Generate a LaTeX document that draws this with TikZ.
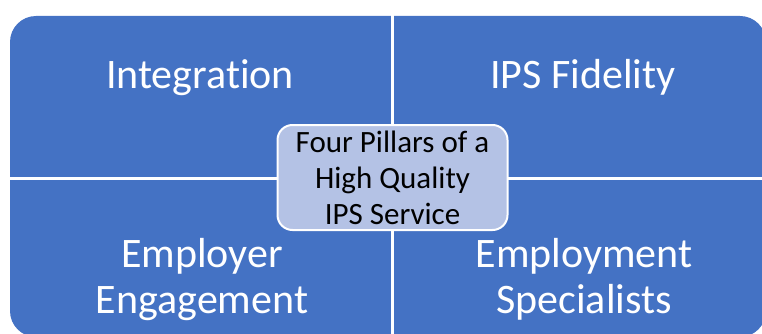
\documentclass[tikz,border=0pt]{standalone}
\usepackage{fontspec}
\setmainfont{Carlito}[Ligatures=NoCommon]
\definecolor{quadblue}{HTML}{4472C4}
\definecolor{hubfill}{HTML}{B4C2E5}
\begin{document}
\begin{tikzpicture}[x=1pt,y=-1pt,
  quadlabel/.style={text=white,font=\fontsize{42}{46}\selectfont,align=center,anchor=base,inner sep=0pt},
  hub/.style={draw=white,line width=2pt,fill=hubfill,rounded corners=15pt,
    minimum width=230pt,minimum height=105pt,inner sep=0pt,
    font=\fontsize{31}{36}\selectfont,align=center,text=black},
  divider/.style={white,line width=3pt}]
  \useasboundingbox (0,0) rectangle (762,334);
  \begin{scope}
    \clip (0,0) rectangle (762,334);
    % matrix background with rounded outer corners
    \fill[quadblue,rounded corners=26pt] (10,16) rectangle (766,337);
    % dividers between the four quadrants
    \coordinate (vtop) at (392,0);
    \coordinate (vbot) at (392,340);
    \coordinate (hleft) at (0,178);
    \coordinate (hright) at (770,178);
    \draw[divider] (vtop) -- (vbot);
    \draw[divider] (hleft) -- (hright);
  \end{scope}
  % quadrant labels (base anchor sits on the last line)
  \node[quadlabel] (integ) at (200,89) {Integration};
  \node[quadlabel] (fidel) at (583,89) {IPS Fidelity};
  \node[quadlabel] (emplr) at (202,313) {Employer\\Engagement};
  \node[quadlabel] (emspc) at (584,313) {Employment\\Specialists};
  % central hub
  \node[hub] (hub) at (392.5,177.5) {Four Pillars of a\\High Quality\\IPS Service};
\end{tikzpicture}
\end{document}
